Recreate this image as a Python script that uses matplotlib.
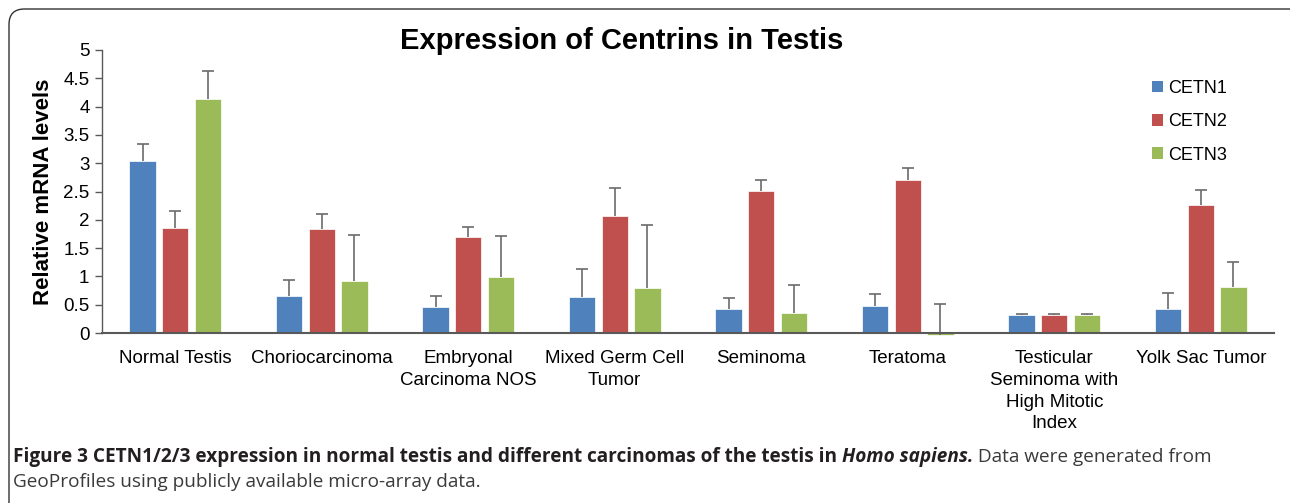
import matplotlib
matplotlib.use("Agg")
import matplotlib.pyplot as plt
import numpy as np
from matplotlib.patches import FancyBboxPatch, Patch

categories = ["Normal Testis", "Choriocarcinoma", "Embryonal\nCarcinoma NOS",
              "Mixed Germ Cell\nTumor", "Seminoma", "Teratoma",
              "Testicular\nSeminoma with\nHigh Mitotic\nIndex", "Yolk Sac Tumor"]
series = ["CETN1", "CETN2", "CETN3"]
cetn1 = [3.04, 0.65, 0.46, 0.63, 0.42, 0.48, 0.325, 0.43]
cetn2 = [1.86, 1.83, 1.69, 2.06, 2.51, 2.71, 0.325, 2.26]
cetn3 = [4.13, 0.91, 0.99, 0.80, 0.35, -0.03, 0.325, 0.81]
err1 = [0.30, 0.28, 0.19, 0.50, 0.20, 0.21, 0.01, 0.27]
err2 = [0.30, 0.28, 0.19, 0.51, 0.20, 0.21, 0.01, 0.26]
err3 = [0.50, 0.83, 0.72, 1.11, 0.49, 0.55, 0.01, 0.45]
yticks = [0, 0.5, 1, 1.5, 2, 2.5, 3, 3.5, 4, 4.5, 5]
ytick_labels = ["0", "0.5", "1", "1.5", "2", "2.5", "3", "3.5", "4", "4.5", "5"]
colors = ["#4F81BD", "#C0504D", "#9BBB59"]

plt.rcParams['font.family'] = ['Liberation Sans', 'DejaVu Sans']

W, H = 1290, 503
fig = plt.figure(figsize=(W / 100, H / 100), dpi=100)

# rounded frame
frame = FancyBboxPatch((9 / W, -0.05), 1.05, 1 - 9 / H + 0.05,
                       boxstyle="round,pad=0,rounding_size=0.012",
                       transform=fig.transFigure, fill=False,
                       edgecolor="#333333", linewidth=1.0, mutation_aspect=W / H)
fig.patches.append(frame)

ax = fig.add_axes([102 / W, (H - 333) / H, (1274 - 102) / W, (333 - 50) / H])
x = np.arange(len(categories))
offs = [-0.223, 0.0, 0.223]
bw = 0.18
for vals, errs, c, o, name in zip([cetn1, cetn2, cetn3], [err1, err2, err3], colors, offs, series):
    vals = np.asarray(vals)
    errs = np.asarray(errs)
    ax.bar(x + o, vals, width=bw, color=c, edgecolor="white", linewidth=0.5,
           label=name, zorder=2, clip_on=False)
    ax.vlines(x + o, vals, vals + errs, colors="#6b6b6b", linewidth=1.2, zorder=3, clip_on=False)
    ax.plot(x + o, vals + errs, linestyle="none", marker="_", markersize=8,
            markeredgewidth=1.2, color="#6b6b6b", zorder=3, clip_on=False)

ax.set_xlim(-0.5, len(categories) - 0.5)
ax.set_ylim(0, 5)
ax.set_yticks(yticks)
ax.set_yticklabels(ytick_labels, fontsize=13.5)
ax.set_xticks(x)
ax.set_xticklabels(categories, fontsize=13.5, linespacing=1.38)
ax.tick_params(axis="x", length=0, pad=12)
ax.tick_params(axis="y", length=5, width=1, color="#595959", pad=4, direction="out")
for s in ["top", "right"]:
    ax.spines[s].set_visible(False)
ax.spines["left"].set_color("#595959")
ax.spines["bottom"].set_color("#595959")
ax.spines["bottom"].set_linewidth(1.5)
ax.spines["bottom"].set_zorder(4)
ax.spines["left"].set_linewidth(1.0)
ax.set_ylabel("Relative mRNA levels", fontsize=16, fontweight="bold", labelpad=7)

handles = [Patch(facecolor=c, edgecolor="none") for c in colors]
fig.legend(handles, series, loc="upper left", bbox_to_anchor=(1152 / W, (H - 80) / H),
           frameon=False, fontsize=13, handlelength=0.6, handleheight=0.6,
           handletextpad=0.3, labelspacing=0.9, borderaxespad=0, borderpad=0)

fig.text(622 / W, (H - 41) / H, "Expression of Centrins in Testis", fontsize=21,
         fontweight="bold", ha="center", va="center")

# caption with mixed styles
cap_font = ['Open Sans', 'DejaVu Sans']
fig.canvas.draw()
renderer = fig.canvas.get_renderer()
pieces = [("Figure 3 CETN1/2/3 expression in normal testis and different carcinomas of the testis in ", "bold", "normal", "#231F20"),
          ("Homo sapiens.", "bold", "italic", "#231F20"),
          (" Data were generated from", "normal", "normal", "#3a3a3a")]
xpos = 13 / W
ycap = (H - 457) / H
for txt, wt, st, col in pieces:
    t = fig.text(xpos, ycap, txt, fontsize=13.7, fontweight=wt, fontstyle=st,
                 family=cap_font, color=col, ha="left", va="center")
    bb = t.get_window_extent(renderer=renderer)
    xpos = bb.x1 / W
fig.text(13 / W, (H - 482) / H, "GeoProfiles using publicly available micro-array data.",
         fontsize=13.7, family=cap_font, color="#3a3a3a", ha="left", va="center")

fig.savefig("out.png", dpi=100)
